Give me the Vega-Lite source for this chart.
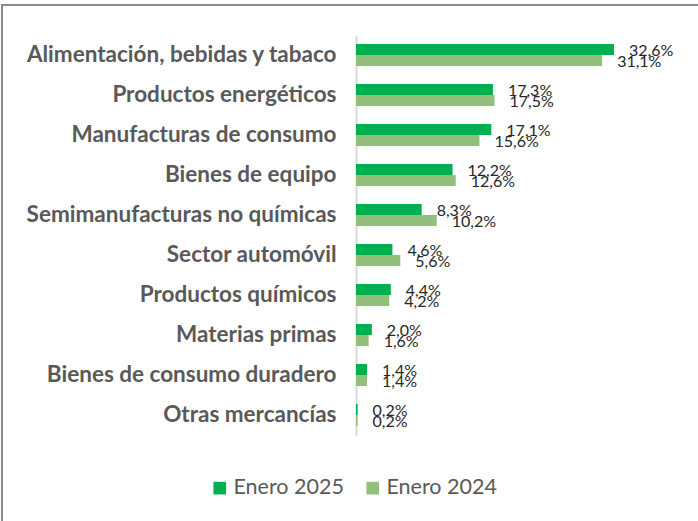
{
  "$schema": "https://vega.github.io/schema/vega-lite/v6.json",
  "autosize": {"type": "none"},
  "padding": {"left": 2, "top": 5, "right": 0, "bottom": 0},
  "width": 700,
  "height": 530,
  "config": {
    "view": {"stroke": "#8a8a8a", "strokeWidth": 2},
    "font": "Lato"
  },
  "data": {
    "values": [
      {"categoria": "Alimentación, bebidas y tabaco", "serie": "Enero 2025", "valor": 32.6, "etiqueta": "32,6%"},
      {"categoria": "Alimentación, bebidas y tabaco", "serie": "Enero 2024", "valor": 31.1, "etiqueta": "31,1%"},
      {"categoria": "Productos energéticos", "serie": "Enero 2025", "valor": 17.3, "etiqueta": "17,3%"},
      {"categoria": "Productos energéticos", "serie": "Enero 2024", "valor": 17.5, "etiqueta": "17,5%"},
      {"categoria": "Manufacturas de consumo", "serie": "Enero 2025", "valor": 17.1, "etiqueta": "17,1%"},
      {"categoria": "Manufacturas de consumo", "serie": "Enero 2024", "valor": 15.6, "etiqueta": "15,6%"},
      {"categoria": "Bienes de equipo", "serie": "Enero 2025", "valor": 12.2, "etiqueta": "12,2%"},
      {"categoria": "Bienes de equipo", "serie": "Enero 2024", "valor": 12.6, "etiqueta": "12,6%"},
      {"categoria": "Semimanufacturas no químicas", "serie": "Enero 2025", "valor": 8.3, "etiqueta": "8,3%"},
      {"categoria": "Semimanufacturas no químicas", "serie": "Enero 2024", "valor": 10.2, "etiqueta": "10,2%"},
      {"categoria": "Sector automóvil", "serie": "Enero 2025", "valor": 4.6, "etiqueta": "4,6%"},
      {"categoria": "Sector automóvil", "serie": "Enero 2024", "valor": 5.6, "etiqueta": "5,6%"},
      {"categoria": "Productos químicos", "serie": "Enero 2025", "valor": 4.4, "etiqueta": "4,4%"},
      {"categoria": "Productos químicos", "serie": "Enero 2024", "valor": 4.2, "etiqueta": "4,2%"},
      {"categoria": "Materias primas", "serie": "Enero 2025", "valor": 2.0, "etiqueta": "2,0%"},
      {"categoria": "Materias primas", "serie": "Enero 2024", "valor": 1.6, "etiqueta": "1,6%"},
      {"categoria": "Bienes de consumo duradero", "serie": "Enero 2025", "valor": 1.4, "etiqueta": "1,4%"},
      {"categoria": "Bienes de consumo duradero", "serie": "Enero 2024", "valor": 1.4, "etiqueta": "1,4%"},
      {"categoria": "Otras mercancías", "serie": "Enero 2025", "valor": 0.2, "etiqueta": "0,2%"},
      {"categoria": "Otras mercancías", "serie": "Enero 2024", "valor": 0.2, "etiqueta": "0,2%"}
    ]
  },
  "encoding": {
    "y": {
      "field": "categoria",
      "type": "nominal",
      "sort": null,
      "scale": {"range": [30, 430], "paddingInner": 0.45, "paddingOuter": 0.225},
      "axis": {
        "title": null,
        "ticks": false,
        "domain": true,
        "domainColor": "#d9d9d9",
        "domainWidth": 2,
        "offset": -354,
        "labelPadding": 20,
        "labelFont": "Lato",
        "labelFontWeight": "bold",
        "labelFontSize": 22.5,
        "labelColor": "#595959",
        "labelLimit": 400
      }
    },
    "yOffset": {
      "field": "serie",
      "type": "nominal",
      "sort": ["Enero 2025", "Enero 2024"],
      "scale": {"paddingInner": 0, "paddingOuter": 0}
    },
    "x": {
      "field": "valor",
      "type": "quantitative",
      "scale": {"domain": [0, 43.72], "range": [354, 700], "nice": false, "zero": false},
      "axis": null
    }
  },
  "layer": [
    {
      "mark": {"type": "bar"},
      "encoding": {
        "color": {
          "field": "serie",
          "type": "nominal",
          "scale": {"domain": ["Enero 2025", "Enero 2024"], "range": ["#00B050", "#93BF7C"]},
          "legend": {
            "title": null,
            "orient": "none",
            "direction": "horizontal",
            "legendX": 207,
            "legendY": 472,
            "symbolType": "square",
            "symbolSize": 160,
            "symbolStrokeWidth": 0,
            "labelFont": "Lato",
            "labelFontSize": 21.5,
            "labelColor": "#595959",
            "labelOffset": 3,
            "columnPadding": 18
          }
        }
      }
    },
    {
      "mark": {"type": "text", "align": "left", "baseline": "middle", "dx": 15, "dy": 1, "fontSize": 16, "font": "Lato", "color": "#262626"},
      "encoding": {
        "text": {"field": "etiqueta"}
      }
    }
  ]
}
